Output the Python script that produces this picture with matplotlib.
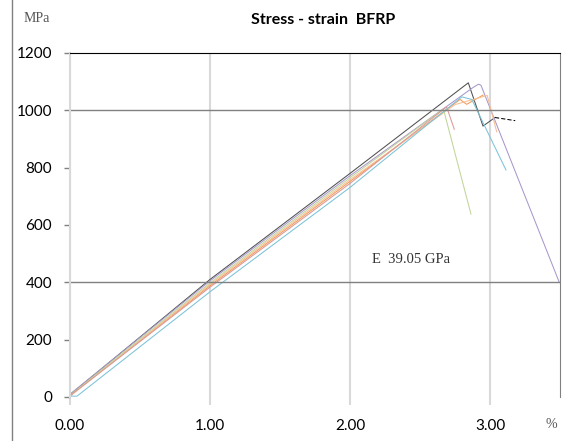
import numpy as np
import matplotlib
matplotlib.use("Agg")
import matplotlib.pyplot as plt
from matplotlib.lines import Line2D

# strain (%) / stress (MPa) for each specimen
black_x = [0.0, 1.0, 2.0, 2.845, 2.95, 3.036]
black_y = [8, 410, 780, 1096, 945, 975]
black_tail_x = [3.036, 3.18]
black_tail_y = [975, 964]

purple_x = [0.0, 1.0, 2.0, 2.88, 2.917, 2.935, 3.495]
purple_y = [10, 405, 772, 1080, 1091, 1088, 400]

orange_x = [0.0, 1.0, 2.0, 2.786, 2.833, 2.95]
orange_y = [5, 388, 752, 1038, 1021, 1053]

peach_x = [0.0, 1.0, 2.0, 2.75, 2.98, 3.048]
peach_y = [3, 393, 758, 1020, 1052, 925]

green_x = [0.0, 1.0, 2.0, 2.667, 2.864]
green_y = [6, 398, 765, 1005, 638]

red_x = [0.0, 1.0, 2.0, 2.69, 2.745]
red_y = [4, 383, 745, 1012, 934]

blue_x = [0.0, 0.05, 1.0, 2.0, 2.798, 2.87, 3.114]
blue_y = [3, 3, 367, 731, 1047, 1038, 792]

series = [
    (black_x, black_y, '#505050'),
    (purple_x, purple_y, '#A898CC'),
    (orange_x, orange_y, '#F29A55'),
    (peach_x, peach_y, '#F8BE94'),
    (green_x, green_y, '#C0D59A'),
    (red_x, red_y, '#DC9896'),
    (blue_x, blue_y, '#7CC3D8'),
]

x_ticks = [0, 1, 2, 3]
x_labels = ['0.00', '1.00', '2.00', '3.00']
y_ticks = [0, 200, 400, 600, 800, 1000, 1200]

W, H = 573, 441
fig = plt.figure(figsize=(W / 100, H / 100), dpi=100)
ax = fig.add_axes([70 / W, 44 / H, 490 / W, 344 / H])

for xs, ys, c in series:
    ax.plot(xs, ys, color=c, lw=0.75)
ax.plot(black_tail_x, black_tail_y, color='black', lw=0.75, ls=(0, (4, 2)))

ax.set_xlim(0, 3.5)
ax.set_ylim(0, 1200)
ax.set_xticks(x_ticks)
ax.set_xticklabels(x_labels)
ax.set_yticks(y_ticks)

ax.grid(axis='x', color='#D9D9D9', lw=1.5)
for v in (400, 1000):
    ax.axhline(v, color='#808080', lw=1)

ax.spines['top'].set_color('black')
ax.spines['right'].set_color('#808080')
ax.spines['left'].set_color('#D9D9D9')
ax.spines['left'].set_linewidth(1.5)
ax.spines['bottom'].set_visible(False)

ax.tick_params(axis='x', length=6, width=1.5, color='#D9D9D9', pad=10,
               labelsize=11)
ax.tick_params(axis='y', length=4, width=1, color='#808080', pad=9,
               labelsize=11)
for lab in ax.get_xticklabels() + ax.get_yticklabels():
    lab.set_family('Lato')

ax.text(2.16, 478, 'E  39.05 GPa', family='Liberation Serif', fontsize=10.5,
        color='#333333', va='center')

fig.text(323 / W, 1 - 20 / H, 'Stress - strain  BFRP', ha='center',
         va='center', fontsize=11.5, fontweight='bold', family='Lato')
fig.text(37 / W, 1 - 18 / H, 'MPa', ha='center', va='center',
         family='Liberation Serif', fontsize=10, color='#555555')
fig.text(551 / W, 1 - 424 / H, '%', ha='center', va='center',
         family='Liberation Serif', fontsize=10, color='#555555')

fig.add_artist(Line2D([12 / W, 12 / W], [0, 1], color='#808080', lw=1))

fig.savefig('out.png', dpi=100)
